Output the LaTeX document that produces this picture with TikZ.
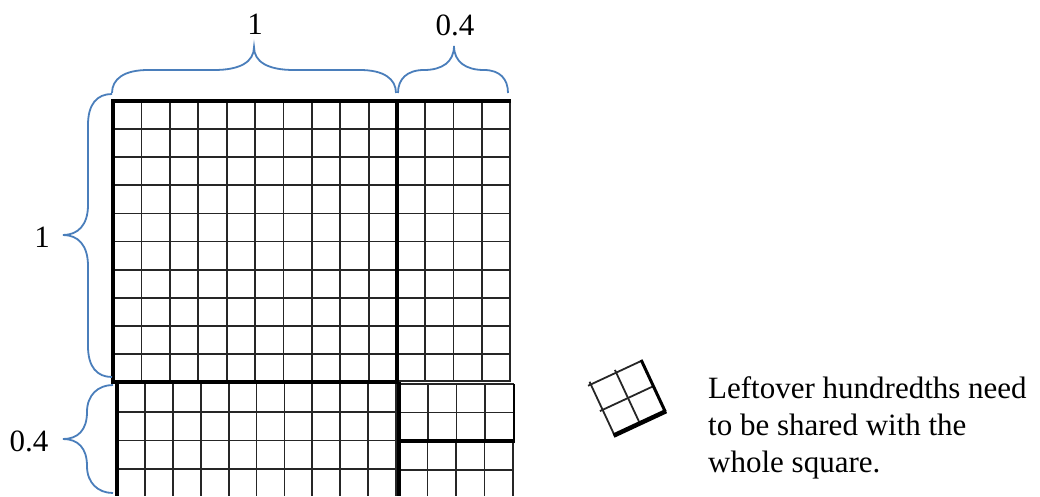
\documentclass[tikz,border=0pt]{standalone}
\usepackage{fontspec}
\setmainfont{Liberation Serif}
\definecolor{braceblue}{HTML}{4A7EBB}
\tikzset{
  gridline/.style={draw=black!85, line width=1.8pt},
  thickline/.style={draw=black, line width=4pt},
  midline/.style={draw=black, line width=2.4pt},
  bracepath/.style={draw=braceblue, line width=1.8pt},
  lbl/.style={font=\fontsize{31}{37}\selectfont, inner sep=0pt, anchor=base},
}
\begin{document}
\begin{tikzpicture}[x=1pt, y=-1pt]
\useasboundingbox (0,0) rectangle (1040,496);

% ---------- main square 1 x 1 with right strip 0.4 ----------
\foreach \i in {1,...,9} {
  \draw[gridline] ({113+\i*28.4},101) -- ({113+\i*28.4},382);
  \draw[gridline] (113,{101+\i*28.1}) -- (510,{101+\i*28.1});
}
\foreach \k in {1,2,3} {
  \draw[gridline] ({397+\k*28.25},101) -- ({397+\k*28.25},382);
}
\draw[gridline] (510,101) -- (510,382);
\draw[gridline] (397,381) -- (510,381);
\draw[thickline] (113,101) rectangle (397,382);
\draw[thickline] (397,101) -- (511,101);

% ---------- bottom-left block 1 x 0.4 ----------
\foreach \k in {1,...,9} {
  \draw[gridline] ({117+\k*27.9},384) -- ({117+\k*27.9},496);
}
\foreach \j in {1,2,3} {
  \draw[gridline] (117,{384+\j*28.2}) -- (396,{384+\j*28.2});
}
\draw[gridline] (396,384) -- (396,496);
\draw[thickline] (117,382) -- (117,496);

% ---------- bottom-right upper box (2 rows) ----------
\foreach \k in {1,2,3} {
  \draw[gridline] ({399+\k*28.75},384) -- ({399+\k*28.75},441);
}
\draw[gridline] (399,384) -- (514,384);
\draw[gridline] (399,412.5) -- (514,412.5);
\draw[midline] (514,384) -- (514,442);

% ---------- bottom-right lower block ----------
\foreach \k in {1,2,3} {
  \draw[gridline] ({399+\k*28.5},441) -- ({399+\k*28.5},496);
}
\draw[gridline] (399,470) -- (513,470);
\draw[gridline] (513,441) -- (513,496);
\draw[midline, line width=3.4pt] (399,441) -- (515,441);
\draw[thickline] (399,382) -- (399,496);

% ---------- small rotated square ----------
\begin{scope}[shift={(628,398)}, rotate=25]
  \draw[gridline] (-31,-28) -- (28,-28);
  \draw[gridline] (-31,0) -- (28,0);
  \draw[gridline] (-28,-31) -- (-28,28);
  \draw[gridline] (0,-31) -- (0,28);
  \draw[midline, line width=3pt] (28,-29) -- (28,28);
  \draw[thickline, line width=4.5pt] (-29,28) -- (29,28);
\end{scope}

% ---------- braces ----------
\draw[bracepath] (112,93) .. controls (112,79) and (124,70) .. (148,70)
  -- (214,70) .. controls (240,70) and (254,62) .. (254,47)
  .. controls (254,62) and (268,70) .. (294,70)
  -- (360,70) .. controls (384,70) and (396,79) .. (396,93);
\draw[bracepath] (398,93) .. controls (398,79) and (407,70) .. (424,70)
  .. controls (442,70) and (454,62) .. (454,46)
  .. controls (454,62) and (466,70) .. (484,70)
  .. controls (500,70) and (508,79) .. (508,93);
\draw[bracepath] (112,94) .. controls (97,94) and (88,104) .. (88,125)
  -- (88,205) .. controls (88,225) and (78,235) .. (63,235)
  .. controls (78,235) and (88,245) .. (88,266)
  -- (88,346) .. controls (88,367) and (97,377) .. (112,377);
\draw[bracepath] (113,385) .. controls (98,385) and (87,395) .. (87,412)
  .. controls (87,430) and (78,439) .. (63,439)
  .. controls (78,439) and (87,448) .. (87,466)
  .. controls (87,483) and (98,493) .. (113,493);

% ---------- labels ----------
\node[lbl] (topone) at (255,34) {1};
\node[lbl] (topfour) at (455,35) {0.4};
\node[lbl] (leftone) at (42,247) {1};
\node[lbl] (leftfour) at (29,451) {0.4};

\node[font=\fontsize{31}{37}\selectfont, inner sep=0pt, anchor=base west, align=left]
  (note) at (708,472) {Leftover hundredths need\\to be shared with the\\whole square.};
\end{tikzpicture}
\end{document}
